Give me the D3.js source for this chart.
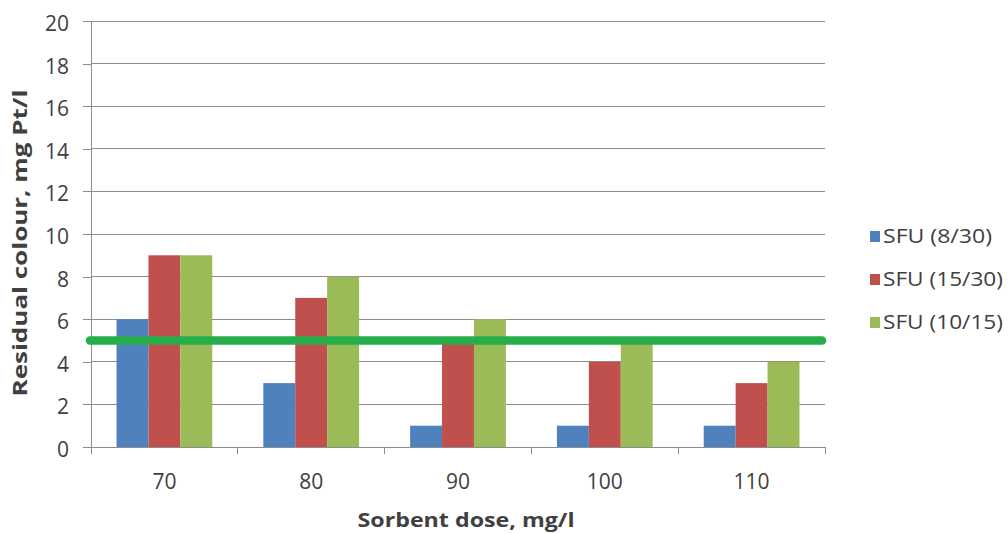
<!DOCTYPE html>
<html>
<head>
<meta charset="utf-8">
<script src="https://cdn.jsdelivr.net/npm/d3@7"></script>
<style>
  html, body { margin: 0; padding: 0; background: #fff; }
  svg { display: block; }
  text { font-family: "Open Sans", "DejaVu Sans", sans-serif; fill: #404040; }
</style>
</head>
<body>
<svg id="chart" width="1008" height="533"></svg>
<script>
// Sorbent doses (mg/l) on the x axis
const doses = ["70", "80", "90", "100", "110"];
// Residual colour (mg Pt/l) for each filter unit
const sfu8_30 = [6, 3, 1, 1, 1];
const sfu15_30 = [9, 7, 5, 4, 3];
const sfu10_15 = [9, 8, 6, 5, 4];
const seriesNames = ["SFU (8/30)", "SFU (15/30)", "SFU (10/15)"];
const seriesColors = ["#4F81BD", "#C0504D", "#9BBB59"];
// Permissible colour limit
const limitValue = 5;
const yTicks = [0, 2, 4, 6, 8, 10, 12, 14, 16, 18, 20];

const series = [sfu8_30, sfu15_30, sfu10_15];

const svg = d3.select("#chart");
const plot = { left: 91, right: 825, top: 21, bottom: 447 };

const x = d3.scaleBand().domain(doses).range([plot.left, plot.right]).paddingInner(0).paddingOuter(0);
const inner = d3.scaleBand().domain(d3.range(series.length))
  .range([0, x.bandwidth()]).paddingInner(0).paddingOuter(0.8);
const y = d3.scaleLinear().domain([0, 20]).range([plot.bottom, plot.top]);

// Horizontal gridlines
svg.append("g")
  .selectAll("line")
  .data(yTicks.filter(d => d > 0))
  .join("line")
  .attr("x1", plot.left).attr("x2", plot.right)
  .attr("y1", d => y(d)).attr("y2", d => y(d))
  .attr("stroke", "#8c8c8c").attr("stroke-width", 1)
  .attr("shape-rendering", "crispEdges");

// Y axis
const yAxis = svg.append("g")
  .attr("transform", `translate(${plot.left},0)`)
  .call(d3.axisLeft(y).tickValues(yTicks).tickSize(8).tickPadding(14));
yAxis.select(".domain").attr("stroke", "#8c8c8c").attr("shape-rendering", "crispEdges");
yAxis.selectAll(".tick line").attr("stroke", "#8c8c8c").attr("shape-rendering", "crispEdges");
yAxis.selectAll(".tick text")
  .style("font-family", "'Open Sans', 'DejaVu Sans', sans-serif")
  .style("font-size", "21px").attr("fill", "#404040")
  .attr("dy", "0.45em");

// X axis with ticks at category boundaries
const xAxisG = svg.append("g").attr("transform", `translate(0,${plot.bottom})`);
xAxisG.append("line")
  .attr("x1", plot.left - 8).attr("x2", plot.right)
  .attr("y1", 0).attr("y2", 0)
  .attr("stroke", "#8c8c8c").attr("shape-rendering", "crispEdges");
const boundaries = doses.map(d => x(d)).concat([x(doses[doses.length - 1]) + x.bandwidth()]);
xAxisG.selectAll("line.tk")
  .data(boundaries)
  .join("line").attr("class", "tk")
  .attr("x1", d => d).attr("x2", d => d)
  .attr("y1", 0).attr("y2", 7)
  .attr("stroke", "#8c8c8c").attr("shape-rendering", "crispEdges");
xAxisG.selectAll("text")
  .data(doses)
  .join("text")
  .attr("x", d => x(d) + x.bandwidth() / 2)
  .attr("y", 42)
  .attr("text-anchor", "middle")
  .style("font-size", "21px")
  .text(d => d);

// Bars
const groups = svg.append("g").selectAll("g")
  .data(series)
  .join("g")
  .attr("fill", (d, i) => seriesColors[i]);
groups.each(function (vals, si) {
  d3.select(this).selectAll("rect")
    .data(vals)
    .join("rect")
    .attr("x", (v, ci) => x(doses[ci]) + inner(si))
    .attr("width", inner.bandwidth())
    .attr("y", v => y(v))
    .attr("height", v => y(0) - y(v));
});

// Limit line
svg.append("line")
  .attr("x1", plot.left - 1).attr("x2", plot.right - 3)
  .attr("y1", y(limitValue)).attr("y2", y(limitValue))
  .attr("stroke", "#27AE4A").attr("stroke-width", 8.5)
  .attr("stroke-linecap", "round");

// Axis titles
svg.append("text")
  .attr("transform", "translate(27,243) rotate(-90)")
  .attr("text-anchor", "middle")
  .attr("textLength", 307).attr("lengthAdjust", "spacingAndGlyphs")
  .style("font-size", "20px").style("font-weight", "bold")
  .attr("fill", "#111")
  .text("Residual colour, mg Pt/l");
svg.append("text")
  .attr("x", 466)
  .attr("y", 527)
  .attr("text-anchor", "middle")
  .attr("textLength", 217).attr("lengthAdjust", "spacingAndGlyphs")
  .style("font-size", "20px").style("font-weight", "bold")
  .attr("fill", "#111")
  .text("Sorbent dose, mg/l");

// Legend
const legendWidths = [109, 120, 120];
const legend = svg.append("g").attr("transform", "translate(870,236)");
const item = legend.selectAll("g")
  .data(seriesNames)
  .join("g")
  .attr("transform", (d, i) => `translate(0,${i * 43})`);
item.append("rect")
  .attr("x", 0).attr("y", -5).attr("width", 10).attr("height", 11)
  .attr("fill", (d, i) => seriesColors[i]);
item.append("text")
  .attr("x", 13).attr("y", 0).attr("dy", "0.36em")
  .attr("textLength", (d, i) => legendWidths[i]).attr("lengthAdjust", "spacingAndGlyphs")
  .style("font-size", "20px")
  .text(d => d);
</script>
</body>
</html>
